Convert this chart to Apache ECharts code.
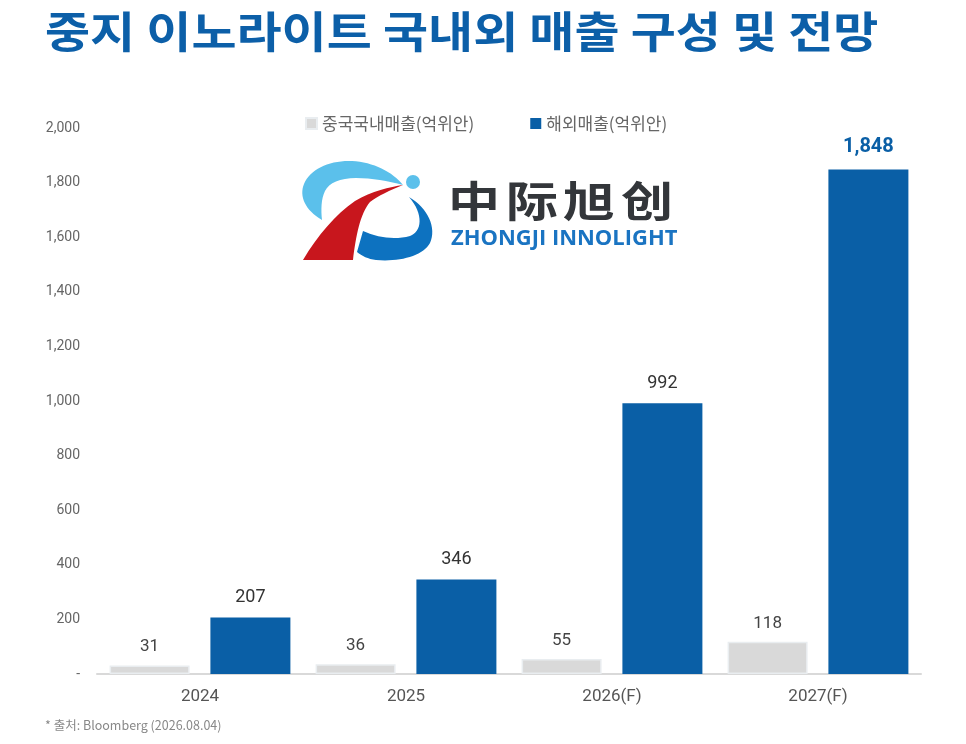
<!DOCTYPE html>
<html>
<head>
<meta charset="utf-8">
<script src="https://cdn.jsdelivr.net/npm/echarts@6/dist/echarts.min.js"></script>
<style>
  html, body { margin: 0; padding: 0; background: #ffffff; }
  #chart { width: 966px; height: 744px; }
</style>
</head>
<body>
<div id="chart"></div>
<script>
// data
var years = ["2024", "2025", "2026(F)", "2027(F)"];
var domesticSales = [31, 36, 55, 118];
var overseasSales = [207, 346, 992, 1848];
var seriesNames = ["중국국내매출(억위안)", "해외매출(억위안)"];

var titleText = "중지 이노라이트 국내외 매출 구성 및 전망";
var sourceText = "* 출처: Bloomberg (2026.08.04)";

var krFont = '"Noto Sans CJK KR", "Noto Sans", sans-serif';
var blue = "#0a5fa6";
var gray = "#d9d9d9";

// logo shapes (drawn, since no image can be loaded)
echarts.graphic.registerShape("logoArcTop", echarts.graphic.extendPath(
  "M322 220 C305 210 299 196 304 184 C310 169 330 160 352 161 C373 162 393 172 403 185 C388 181 372 178 356 178 C340 178 329 183 325 191 C321 199 321 210 322 220 Z"
));
echarts.graphic.registerShape("logoSwoosh", echarts.graphic.extendPath(
  "M303 260 C318 235 335 215 355 201 C372 191 390 187 403 185 C390 190 378 196 370 202 C360 214 356 236 353 260 Z"
));
echarts.graphic.registerShape("logoArcBottom", echarts.graphic.extendPath(
  "M409 197 C428 208 437 228 430 243 C423 256 400 262 376 260 C368 259 362 256 357 252 L363 231 C378 238 395 240 410 236 C422 232 424 214 409 197 Z"
));

var chart = echarts.init(document.getElementById("chart"));

// last blue bar gets the highlighted label
var overseasData = overseasSales.map(function (v, i) {
  if (i === overseasSales.length - 1) {
    return {
      value: v,
      label: { color: blue, fontWeight: "bold", fontSize: 20, distance: 12 }
    };
  }
  return v;
});

var cnFont = '"Noto Sans CJK SC", sans-serif';
function logoChar(ch, x) {
  return {
    type: "text",
    x: x,
    y: 180,
    scaleY: 0.8,
    style: { text: ch, fontSize: 52, fontWeight: "bold", fill: "#33363a", fontFamily: cnFont, verticalAlign: "top" }
  };
}

var option = {
  backgroundColor: "#ffffff",
  animation: false,
  textStyle: { fontFamily: krFont },
  grid: { left: 97, right: 45, top: 128, bottom: 70 },
  legend: {
    left: 300,
    top: 110,
    itemWidth: 11,
    itemHeight: 11,
    itemGap: 56,
    icon: "rect",
    textStyle: { fontSize: 17, color: "#666", fontFamily: krFont },
    data: seriesNames
  },
  xAxis: {
    type: "category",
    data: years,
    axisLine: { lineStyle: { color: "#d9d9d9", width: 2 } },
    axisTick: { show: false },
    axisLabel: { fontSize: 17, color: "#555", margin: 14, fontFamily: "Roboto, sans-serif" }
  },
  yAxis: {
    type: "value",
    min: 0,
    max: 2000,
    interval: 200,
    axisLine: { show: false },
    axisTick: { show: false },
    splitLine: { show: false },
    axisLabel: {
      fontSize: 14,
      color: "#666",
      margin: 17,
      fontFamily: "Roboto, sans-serif",
      formatter: function (v) {
        return v === 0 ? "-" : v.toLocaleString("en-US");
      }
    }
  },
  series: [
    {
      name: seriesNames[0],
      type: "bar",
      data: domesticSales,
      barWidth: 80,
      barGap: "26%",
      itemStyle: { color: gray, borderColor: "#e9edf0", borderWidth: 1.5 },
      label: {
        show: true,
        position: "top",
        distance: 10,
        fontSize: 17,
        color: "#444",
        fontFamily: "Roboto, sans-serif"
      }
    },
    {
      name: seriesNames[1],
      type: "bar",
      data: overseasData,
      barWidth: 80,
      itemStyle: { color: blue },
      label: {
        show: true,
        position: "top",
        distance: 11,
        fontSize: 18,
        color: "#333",
        fontFamily: "Roboto, sans-serif",
        formatter: function (p) { return p.value.toLocaleString("en-US"); }
      }
    }
  ],
  graphic: [
    {
      type: "text",
      x: 45,
      y: 10,
      scaleX: 1.14,
      style: {
        text: titleText,
        fontSize: 43,
        fontWeight: "bold",
        fill: "#0c5fa8",
        fontFamily: krFont,
        verticalAlign: "top"
      }
    },
    {
      type: "text",
      left: 45,
      top: 719,
      style: { text: sourceText, fontSize: 12.5, fill: "#888", fontFamily: krFont }
    },
    { type: "logoArcTop", style: { fill: "#5bc0eb" } },
    { type: "logoSwoosh", style: { fill: "#c8161d" } },
    { type: "logoArcBottom", style: { fill: "#0d72c0" } },
    {
      type: "circle",
      shape: { cx: 413, cy: 182, r: 7 },
      style: { fill: "#5bc0eb" }
    },
    logoChar("中", 448),
    logoChar("际", 506),
    logoChar("旭", 563),
    logoChar("创", 621),
    {
      type: "text",
      x: 451,
      y: 229,
      scaleX: 1.045,
      style: {
        text: "ZHONGJI INNOLIGHT",
        fontSize: 21,
        fontWeight: "bold",
        fill: "#1a74c2",
        fontFamily: '"Open Sans", "Noto Sans", sans-serif',
        verticalAlign: "top"
      }
    }
  ]
};

chart.setOption(option);
</script>
</body>
</html>
